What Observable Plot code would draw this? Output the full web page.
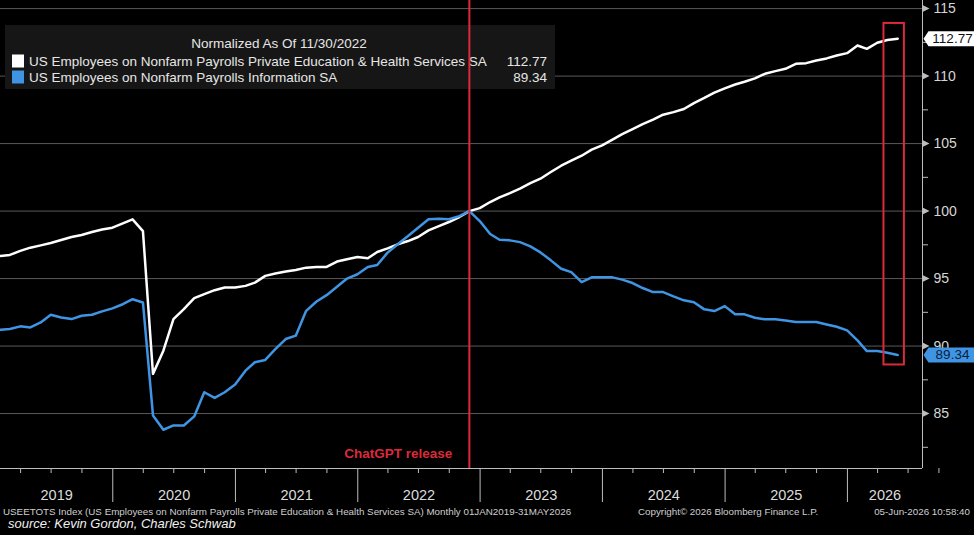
<!DOCTYPE html>
<html>
<head>
<meta charset="utf-8">
<script src="https://cdn.jsdelivr.net/npm/d3@7"></script>
<script src="https://cdn.jsdelivr.net/npm/@observablehq/plot@0.6"></script>
<style>
  body { margin: 0; background: #000; font-family: "Liberation Sans", Arial, sans-serif; }
  #chart { width: 974px; height: 505px; }
  #footer { position: relative; width: 974px; height: 30px; color: #cfcfcf; }
  #footer span { position: absolute; white-space: nowrap; }
  .meta { font-size: 9.8px; top: 1px; }
  .source { font-size: 13px; font-style: italic; color: #f0f0f0; left: 8px; top: 11px; }
</style>
</head>
<body>
<div id="chart"></div>
<div id="footer">
  <span class="meta" style="left:3px">USEETOTS Index (US Employees on Nonfarm Payrolls Private Education &amp; Health Services SA) Monthly 01JAN2019-31MAY2026</span>
  <span class="meta" style="left:638px">Copyright© 2026 Bloomberg Finance L.P.</span>
  <span class="meta" style="right:4px">05-Jun-2026 10:58:40</span>
  <span class="source">source: Kevin Gordon, Charles Schwab</span>
</div>
<script>
// Monthly values, Jan 2019 .. May 2026, normalized to 100 at 11/30/2022
const educHealth = [
  96.68, 96.75, 97.05, 97.29, 97.46, 97.64, 97.86, 98.08, 98.23, 98.45, 98.64, 98.77,
  99.09, 99.39, 98.52, 87.94, 89.66, 92.00, 92.74, 93.55, 93.85, 94.14, 94.34, 94.34,
  94.46, 94.70, 95.20, 95.37, 95.52, 95.64, 95.81, 95.86, 95.86, 96.26, 96.43, 96.60,
  96.50, 96.97, 97.24, 97.54, 97.78, 98.08, 98.57, 98.89, 99.19, 99.56, 100.00, 100.22,
  100.67, 101.01, 101.33, 101.66, 102.07, 102.40, 102.89, 103.36, 103.73, 104.10, 104.55, 104.87,
  105.29, 105.70, 106.07, 106.44, 106.77, 107.14, 107.33, 107.56, 108.00, 108.38, 108.77, 109.09,
  109.38, 109.58, 109.83, 110.17, 110.37, 110.54, 110.91, 110.96, 111.16, 111.31, 111.53, 111.70,
  112.27, 112.02, 112.47, 112.67, 112.77
];
const information = [
  91.21, 91.26, 91.46, 91.38, 91.75, 92.32, 92.12, 92.00, 92.25, 92.32, 92.57, 92.79,
  93.10, 93.47, 93.23, 84.86, 83.80, 84.12, 84.12, 84.79, 86.58, 86.16, 86.58, 87.15,
  88.18, 88.80, 88.97, 89.78, 90.52, 90.77, 92.61, 93.30, 93.77, 94.39, 95.00, 95.32,
  95.86, 96.01, 96.92, 97.54, 98.15, 98.77, 99.39, 99.43, 99.39, 99.63, 100.00, 99.26,
  98.30, 97.88, 97.83, 97.70, 97.38, 96.94, 96.35, 95.73, 95.48, 94.74, 95.09, 95.09,
  95.09, 94.92, 94.67, 94.30, 94.00, 94.00, 93.68, 93.39, 93.24, 92.72, 92.59, 92.96,
  92.35, 92.35, 92.10, 91.98, 91.98, 91.90, 91.78, 91.78, 91.78, 91.60, 91.43, 91.16,
  90.42, 89.63, 89.63, 89.50, 89.34
];
const seriesNames = [
  "US Employees on Nonfarm Payrolls Private Education & Health Services SA",
  "US Employees on Nonfarm Payrolls Information SA"
];
const legendTitle = "Normalized As Of 11/30/2022";
const years = [2019, 2020, 2021, 2022, 2023, 2024, 2025, 2026];
const majorTicks = [85, 90, 95, 100, 105, 110, 115];
const minorTicks = [82.5, 87.5, 92.5, 97.5, 102.5, 107.5, 112.5];
const releaseDate = new Date(Date.UTC(2022, 10, 30));
const releaseLabel = "ChatGPT release";
const highlight = {x1: new Date(Date.UTC(2026, 3, 20)), x2: new Date(Date.UTC(2026, 5, 20)), y1: 88.6, y2: 113.9};

const xDomain = [new Date(Date.UTC(2019, 0, 31)), new Date(Date.UTC(2026, 7, 13))];
const yDomain = [80.93, 115.6];

const WHITE = "#ffffff";
const BLUE = "#3f95e3";
const RED = "#dc2a3c";
const AXIS = "#bdbdbd";

// month-end dates for each observation
const rows = educHealth.map((v, i) => ({
  date: new Date(Date.UTC(2019, i + 1, 0)),
  educ: v,
  info: information[i]
}));
const last = rows[rows.length - 1];

// quarter ticks and year separators on the time axis
const quarterTicks = [];
years.forEach(y => [3, 6, 9].forEach(m => quarterTicks.push(new Date(Date.UTC(y, m, 1)))));
const yearStarts = years.slice(1).map(y => new Date(Date.UTC(y, 0, 1)));
// year labels sit in the middle of the visible part of each year
const yearLabels = years.map(y => {
  const a = Math.max(Date.UTC(y, 0, 1), +xDomain[0]);
  const b = Math.min(Date.UTC(y + 1, 0, 1), +xDomain[1]);
  return {mid: new Date((a + b) / 2), label: String(y)};
});

const arrow = {draw(ctx) { ctx.moveTo(0, -3.5); ctx.lineTo(7, 0); ctx.lineTo(0, 3.5); ctx.closePath(); }};
const badge = {draw(ctx) { ctx.moveTo(1, 0); ctx.lineTo(6, -7.5); ctx.lineTo(52, -7.5); ctx.lineTo(52, 7.5); ctx.lineTo(6, 7.5); ctx.closePath(); }};

function legendBox() {
  const g = d3.create("svg:g")
    .attr("font-family", "'Liberation Sans', Arial, sans-serif")
    .attr("font-size", 13.5)
    .attr("text-anchor", "start")
    .attr("fill", "#e6e6e6");
  g.append("rect").attr("x", 5).attr("y", 25).attr("width", 550).attr("height", 64).attr("fill", "#161616");
  g.append("text").attr("x", 279).attr("y", 43).attr("dy", "0.35em").attr("text-anchor", "middle").text(legendTitle);
  const items = [
    {name: seriesNames[0], value: last.educ, color: WHITE},
    {name: seriesNames[1], value: last.info, color: BLUE}
  ];
  items.forEach((d, i) => {
    const cy = 61 + i * 16;
    g.append("rect").attr("x", 12).attr("y", cy - 6.5).attr("width", 12).attr("height", 13).attr("fill", d.color);
    g.append("text").attr("x", 29).attr("y", cy).attr("dy", "0.35em").attr("text-anchor", "start").text(d.name);
    g.append("text").attr("x", 547).attr("y", cy).attr("dy", "0.35em").attr("text-anchor", "end").text(d.value.toFixed(2));
  });
  return g.node();
}

const chart = Plot.plot({
  width: 974,
  height: 505,
  marginLeft: 0,
  marginRight: 52,
  marginTop: 0,
  marginBottom: 37,
  style: {background: "#000", color: AXIS, fontFamily: "'Liberation Sans', Arial, sans-serif"},
  x: {type: "utc", domain: xDomain},
  y: {domain: yDomain},
  marks: [
    // horizontal gridlines
    Plot.ruleY(majorTicks, {stroke: "#5a5a5a", strokeWidth: 1}),
    // series
    Plot.line(rows, {x: "date", y: "educ", stroke: WHITE, strokeWidth: 2.5}),
    Plot.line(rows, {x: "date", y: "info", stroke: BLUE, strokeWidth: 2.5}),
    legendBox,
    // release marker
    Plot.ruleX([releaseDate], {stroke: RED, strokeWidth: 2}),
    Plot.text([releaseLabel], {
      x: () => releaseDate, frameAnchor: "bottom", lineAnchor: "middle", dy: -15, dx: -17,
      textAnchor: "end", text: d => d, fill: RED, fontWeight: "bold", fontSize: 13.5
    }),
    // highlight box on the latest readings
    Plot.rect([highlight], {x1: "x1", x2: "x2", y1: "y1", y2: "y2", fill: "none", stroke: RED, strokeWidth: 2}),
    // frame lines
    Plot.ruleX([xDomain[1]], {stroke: AXIS}),
    Plot.ruleY([yDomain[0]], {stroke: AXIS}),
    // bottom time axis
    Plot.axisX(quarterTicks, {tickSize: 5, tickFormat: () => "", stroke: AXIS}),
    Plot.axisX(yearStarts, {tickSize: 34, tickFormat: () => "", stroke: AXIS}),
    Plot.text(yearLabels, {x: "mid", text: "label", frameAnchor: "bottom", lineAnchor: "middle", dy: 27, fill: "#dcdcdc", fontSize: 14.5}),
    // right value axis
    Plot.axisY(minorTicks, {anchor: "right", tickSize: 5, tickFormat: () => "", stroke: AXIS}),
    Plot.dot(majorTicks, {x: () => xDomain[1], y: d => d, symbol: arrow, fill: AXIS, r: 4}),
    Plot.text(majorTicks, {x: () => xDomain[1], y: d => d, text: d => String(d), dx: 11, textAnchor: "start", fill: "#d6d6d6", fontSize: 14}),
    // last-value badges
    Plot.dot([last], {x: () => xDomain[1], y: "educ", symbol: badge, fill: WHITE, r: 4}),
    Plot.text([last], {x: () => xDomain[1], y: "educ", text: d => d.educ.toFixed(2), dx: 30, fill: "#111", fontSize: 13.5}),
    Plot.dot([last], {x: () => xDomain[1], y: "info", symbol: badge, fill: BLUE, r: 4}),
    Plot.text([last], {x: () => xDomain[1], y: "info", text: d => d.info.toFixed(2), dx: 30, fill: "#0b1e3a", fontSize: 13.5})
  ]
});

document.getElementById("chart").appendChild(chart);
</script>
</body>
</html>
